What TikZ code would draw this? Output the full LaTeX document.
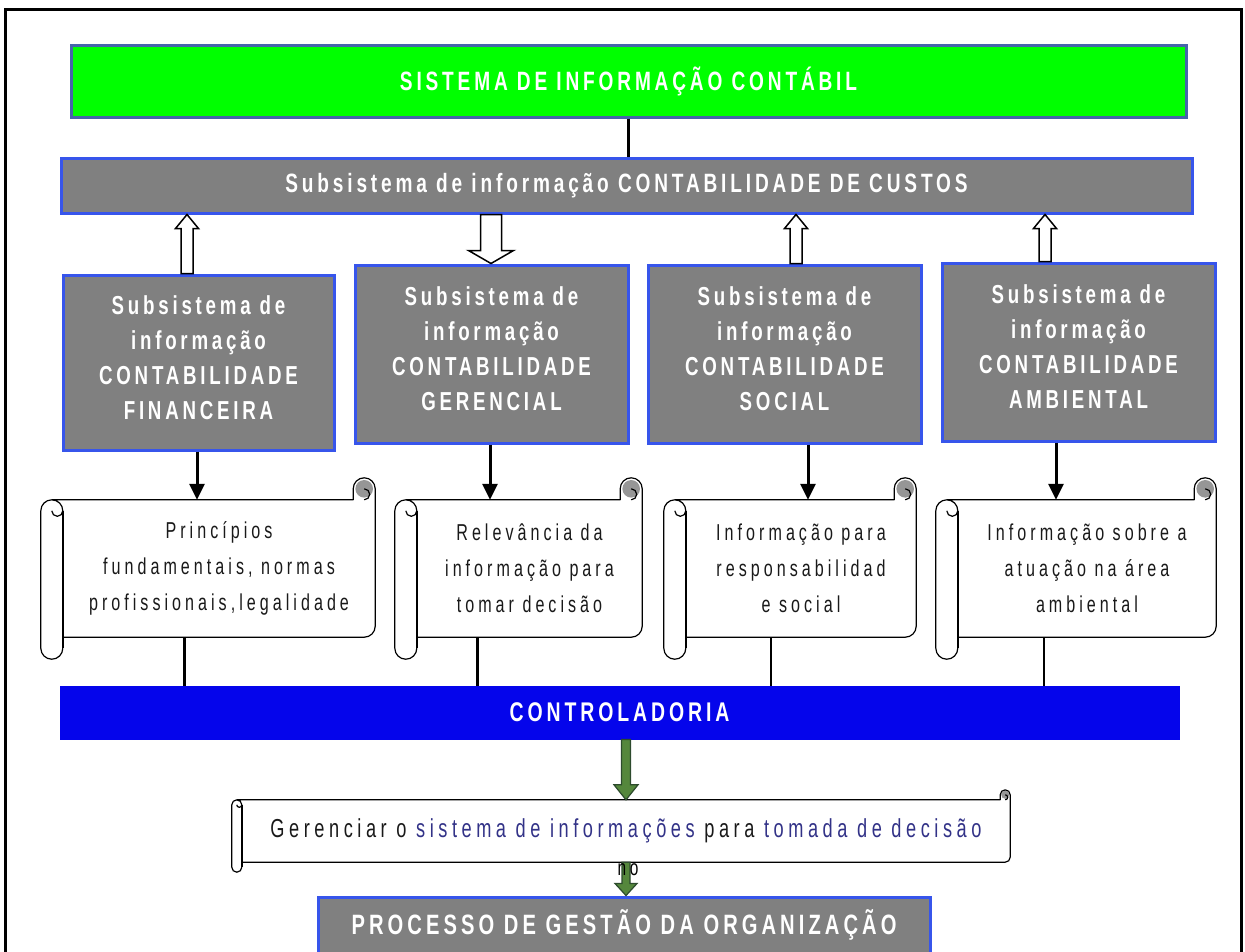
\documentclass[tikz,border=0pt]{standalone}
\usepackage{fontspec}
\setmainfont{Liberation Sans}
\newfontfamily\headfont[FakeStretch=0.72,LetterSpace=14.5]{Liberation Sans}
\newfontfamily\notefont[FakeStretch=0.7,LetterSpace=17.5]{Liberation Sans}
\usetikzlibrary{arrows.meta,calc}

\definecolor{sicgreen}{RGB}{0,255,0}
\definecolor{sicedge}{RGB}{70,100,170}
\definecolor{boxgray}{RGB}{128,128,128}
\definecolor{boxedge}{RGB}{55,85,235}
\definecolor{ctrlblue}{RGB}{5,5,235}
\definecolor{arrowgreen}{RGB}{85,135,60}
\definecolor{arrowedge}{RGB}{45,75,45}
\definecolor{curlgray}{RGB}{150,150,150}
\definecolor{infoblue}{RGB}{50,50,135}

\tikzset{
  bar/.style={draw=boxedge, line width=3pt, fill=boxgray, text=white, inner sep=0pt,
    font=\headfont\bfseries\fontsize{26.5}{35}\selectfont},
  subbox/.style={bar, align=center, text depth=10pt,
    font=\headfont\bfseries\fontsize{26}{35}\selectfont},
  note/.style={align=center, inner sep=0pt, text=black!90, font=\notefont\fontsize{23}{36}\selectfont},
  scrollline/.style={line width=1.2pt, line join=round},
  down/.style={line width=3pt, -{Triangle[width=15pt,length=16pt]}},
  link/.style={line width=3pt},
  thinlink/.style={line width=1.5pt},
  hollow/.style={draw, line width=1.5pt, fill=white},
  greenarrow/.style={draw=arrowedge, line width=1.2pt, fill=arrowgreen},
}

% scroll outline round a note node: #1 node, #2 roll radius
\newcommand{\scrollframe}[2]{%
  \fill[curlgray] let \p1=(#1.north east) in (\x1-#2,\y1+#2) circle[radius=0.8*#2];
  \draw[scrollline] let \p1=(#1.north west), \p2=(#1.south east) in
    (\x1-#2,\y1) -- (\x2-2*#2,\y1) -- (\x2-2*#2,\y1+#2)
      arc[start angle=180,end angle=0,radius=#2] -- (\x2,\y2+#2)
      arc[start angle=0,end angle=-90,radius=#2] -- (\x1,\y2)
    (\x1,\y1-#2) arc[start angle=0,end angle=180,radius=#2] -- (\x1-2*#2,\y2-#2)
      arc[start angle=180,end angle=360,radius=#2]
    (\x1,\y1-#2) arc[start angle=0,end angle=-180,radius=#2/2]
    (\x2-#2,\y1) arc[start angle=-90,end angle=90,radius=#2/2];
  \draw[line width=2.5pt] let \p1=(#1.north west), \p2=(#1.south east) in
    (\x1,\y1-#2) -- (\x1,\y2-#2);
}

% block arrow from #2 to #3: half shaft #4, half head #5, head length #6
\newcommand{\blockarrow}[6][hollow]{%
  \draw[#1] let \p1=#2, \p2=#3, \p3=($#3!#6!#2$) in
    (\x1-#4,\y1) -- (\x1-#4,\y3) -- (\x1-#5,\y3) -- (\x2,\y2)
    -- (\x1+#5,\y3) -- (\x1+#4,\y3) -- (\x1+#4,\y1) -- cycle;
}

\begin{document}
\begin{tikzpicture}[x=1pt,y=-1pt]
\useasboundingbox (0,0) rectangle (1245,951);
\clip (0,0) rectangle (1245,951);
\draw[line width=3pt] (5,9) rectangle (1241,965);

\node[bar, fill=sicgreen, draw=sicedge, minimum width=1115, minimum height=72] (sic) at (628.5,81) {SISTEMA DE INFORMAÇÃO CONTÁBIL};
\node[bar, font=\headfont\bfseries\fontsize{26.5}{30}\selectfont, minimum width=1131, minimum height=55] (custos) at (626.5,185.5) {Subsistema de informação CONTABILIDADE DE CUSTOS};

\node[subbox, minimum width=271, minimum height=175] (fin) at (198.5,362.5) {Subsistema de\\informação\\CONTABILIDADE\\FINANCEIRA};
\node[subbox, minimum width=273, minimum height=178] (ger) at (491.5,354) {Subsistema de\\informação\\CONTABILIDADE\\GERENCIAL};
\node[subbox, minimum width=273, minimum height=178] (soc) at (784.5,354) {Subsistema de\\informação\\CONTABILIDADE\\SOCIAL};
\node[subbox, minimum width=273, minimum height=178] (amb) at (1078.5,352) {Subsistema de\\informação\\CONTABILIDADE\\AMBIENTAL};

\node[note, minimum width=312, minimum height=137] (p1) at (219,568.5) {Princípios\\fundamentais, normas\\profissionais,legalidade};
\node[note, minimum width=225, minimum height=137] (p2) at (529.5,568.5) {Relevância da\\informação para\\tomar decisão};
\node[note, minimum width=230, minimum height=137] (p3) at (801,568.5) {Informação para\\responsabilidad\\e social};
\node[note, minimum width=258, minimum height=137] (p4) at (1087,568.5) {Informação sobre a\\atuação na área\\ambiental};

\node[bar, font=\headfont\bfseries\fontsize{27}{30}\selectfont, fill=ctrlblue, draw=ctrlblue, minimum width=1117, minimum height=51] (ctrl) at (619.5,712.5) {CONTROLADORIA};
\node[note, font=\notefont\fontsize{26}{28}\selectfont, minimum width=768, minimum height=62] (p5) at (626,831) {Gerenciar o \textcolor{infoblue}{sistema de informações} para \textcolor{infoblue}{tomada de decisão}};
\node[bar, font=\headfont\bfseries\fontsize{28}{30}\selectfont, minimum width=612, minimum height=56] (proc) at (624,925) {PROCESSO DE GESTÃO DA ORGANIZAÇÃO};

\scrollframe{p1}{11pt}
\scrollframe{p2}{11pt}
\scrollframe{p3}{11pt}
\scrollframe{p4}{11pt}
\scrollframe{p5}{5pt}

\coordinate (h1) at (187,0);
\coordinate (h2) at (491,0);
\coordinate (h3) at (796,0);
\coordinate (h4) at (1045,0);
\coordinate (c1) at (197,0);
\coordinate (c2) at (490,0);
\coordinate (c3) at (808,0);
\coordinate (c4) at (1056,0);
\coordinate (d1) at (184,0);
\coordinate (d2) at (477,0);
\coordinate (d3) at (771,0);
\coordinate (d4) at (1044,0);
\coordinate (g1) at (626,0);

\draw[link] (sic.south) -- (sic.south |- custos.north);
\blockarrow{(h1 |- fin.north)}{(h1 |- custos.south)}{6pt}{11.5pt}{14pt}
\blockarrow{(h2 |- custos.south)}{(h2 |- ger.north)}{10.5pt}{22.5pt}{13pt}
\blockarrow{(h3 |- soc.north)}{(h3 |- custos.south)}{6pt}{11.5pt}{14pt}
\blockarrow{(h4 |- amb.north)}{(h4 |- custos.south)}{6pt}{11.5pt}{14pt}

\foreach \cl/\src/\dst in {c1/fin/p1, c2/ger/p2, c3/soc/p3, c4/amb/p4}
  \draw[down] (\cl |- \src.south) -- (\cl |- \dst.north);
\foreach \cl/\src in {d1/p1, d2/p2}
  \draw[link] (\cl |- \src.south) -- (\cl |- ctrl.north);
\foreach \cl/\src in {d3/p3, d4/p4}
  \draw[thinlink] (\cl |- \src.south) -- (\cl |- ctrl.north);

\blockarrow[greenarrow]{(g1 |- ctrl.south)}{(g1 |- p5.north)}{4.5pt}{12pt}{15pt}
\blockarrow[greenarrow]{(g1 |- p5.south)}{(g1 |- proc.north)}{4pt}{11pt}{12pt}
\node[note, text=black, font=\notefont\fontsize{22}{24}\selectfont] (nolabel) at (628,870) {no};
\end{tikzpicture}
\end{document}
